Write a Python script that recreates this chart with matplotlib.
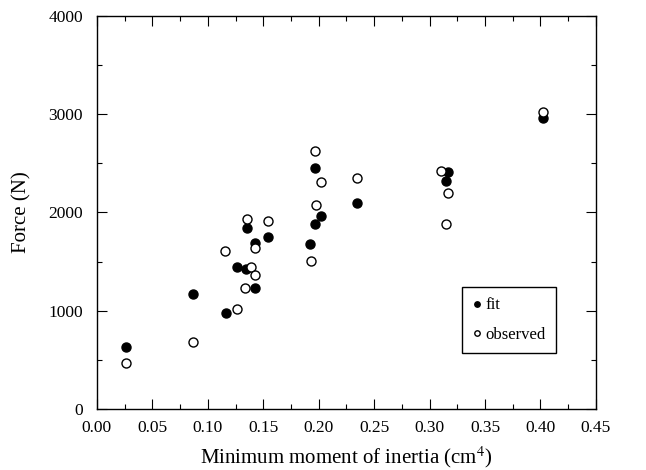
import numpy as np
import matplotlib
matplotlib.use('Agg')
import matplotlib.pyplot as plt
from matplotlib.ticker import MultipleLocator, FormatStrFormatter

plt.rcParams['font.family'] = ['Liberation Serif', 'DejaVu Serif']
plt.rcParams['mathtext.fontset'] = 'stix'

# fit values (filled circles)
fit_x = [0.026, 0.087, 0.116, 0.126, 0.134, 0.135, 0.1425, 0.154, 0.1422,
         0.192, 0.1964, 0.197, 0.2018, 0.2344, 0.3165, 0.3144, 0.4027]
fit_y = [627, 1172, 981, 1441, 1424, 1840, 1227, 1755, 1686,
         1676, 2453, 1881, 1959, 2092, 2412, 2317, 2957]

# observed values (open circles)
obs_x = [0.0263, 0.0871, 0.1263, 0.1156, 0.1356, 0.1389, 0.1422, 0.1332, 0.1422,
         0.1542, 0.1928, 0.197, 0.2024, 0.1973, 0.2344, 0.3099, 0.3165, 0.3147, 0.4027]
obs_y = [470, 681, 1022, 1608, 1932, 1448, 1363, 1227, 1642,
         1908, 1509, 2630, 2313, 2078, 2351, 2426, 2201, 1881, 3022]

fig = plt.figure(figsize=(6.46, 4.70), dpi=100)
ax = fig.add_axes([0.150, 0.130, 0.7725, 0.836])

ax.plot(fit_x, fit_y, 'o', color='black', markersize=6.5, label='fit')
ax.plot(obs_x, obs_y, 'o', markerfacecolor='white', markeredgecolor='black',
        markeredgewidth=1.0, markersize=6.5, label='observed')

ax.set_xlim(0, 0.45)
ax.set_ylim(0, 4000)
ax.xaxis.set_major_locator(MultipleLocator(0.05))
ax.xaxis.set_minor_locator(MultipleLocator(0.025))
ax.yaxis.set_major_locator(MultipleLocator(1000))
ax.yaxis.set_minor_locator(MultipleLocator(500))
ax.xaxis.set_major_formatter(FormatStrFormatter('%.2f'))

ax.tick_params(which='both', direction='in', top=True, right=True, labelsize=12.5)
ax.tick_params(axis='x', which='major', pad=8)
ax.tick_params(axis='y', which='major', pad=10)
ax.tick_params(which='major', length=7, width=0.8)
ax.tick_params(which='minor', length=3.5, width=0.8)
for s in ax.spines.values():
    s.set_linewidth(1.0)

ax.set_xlabel('Minimum moment of inertia (cm$^{4}$)', fontsize=15, labelpad=6)
ax.set_ylabel('Force (N)', fontsize=15, labelpad=12)

leg = ax.legend(loc='lower right', bbox_to_anchor=(0.92, 0.143), borderaxespad=0,
                fontsize=12, markerscale=0.6, handlelength=0.5, handletextpad=0.3,
                borderpad=0.6, labelspacing=0.8, fancybox=False, framealpha=1)
leg.get_frame().set_edgecolor('black')
leg.get_frame().set_linewidth(1.0)

fig.savefig('out.png', dpi=100)
